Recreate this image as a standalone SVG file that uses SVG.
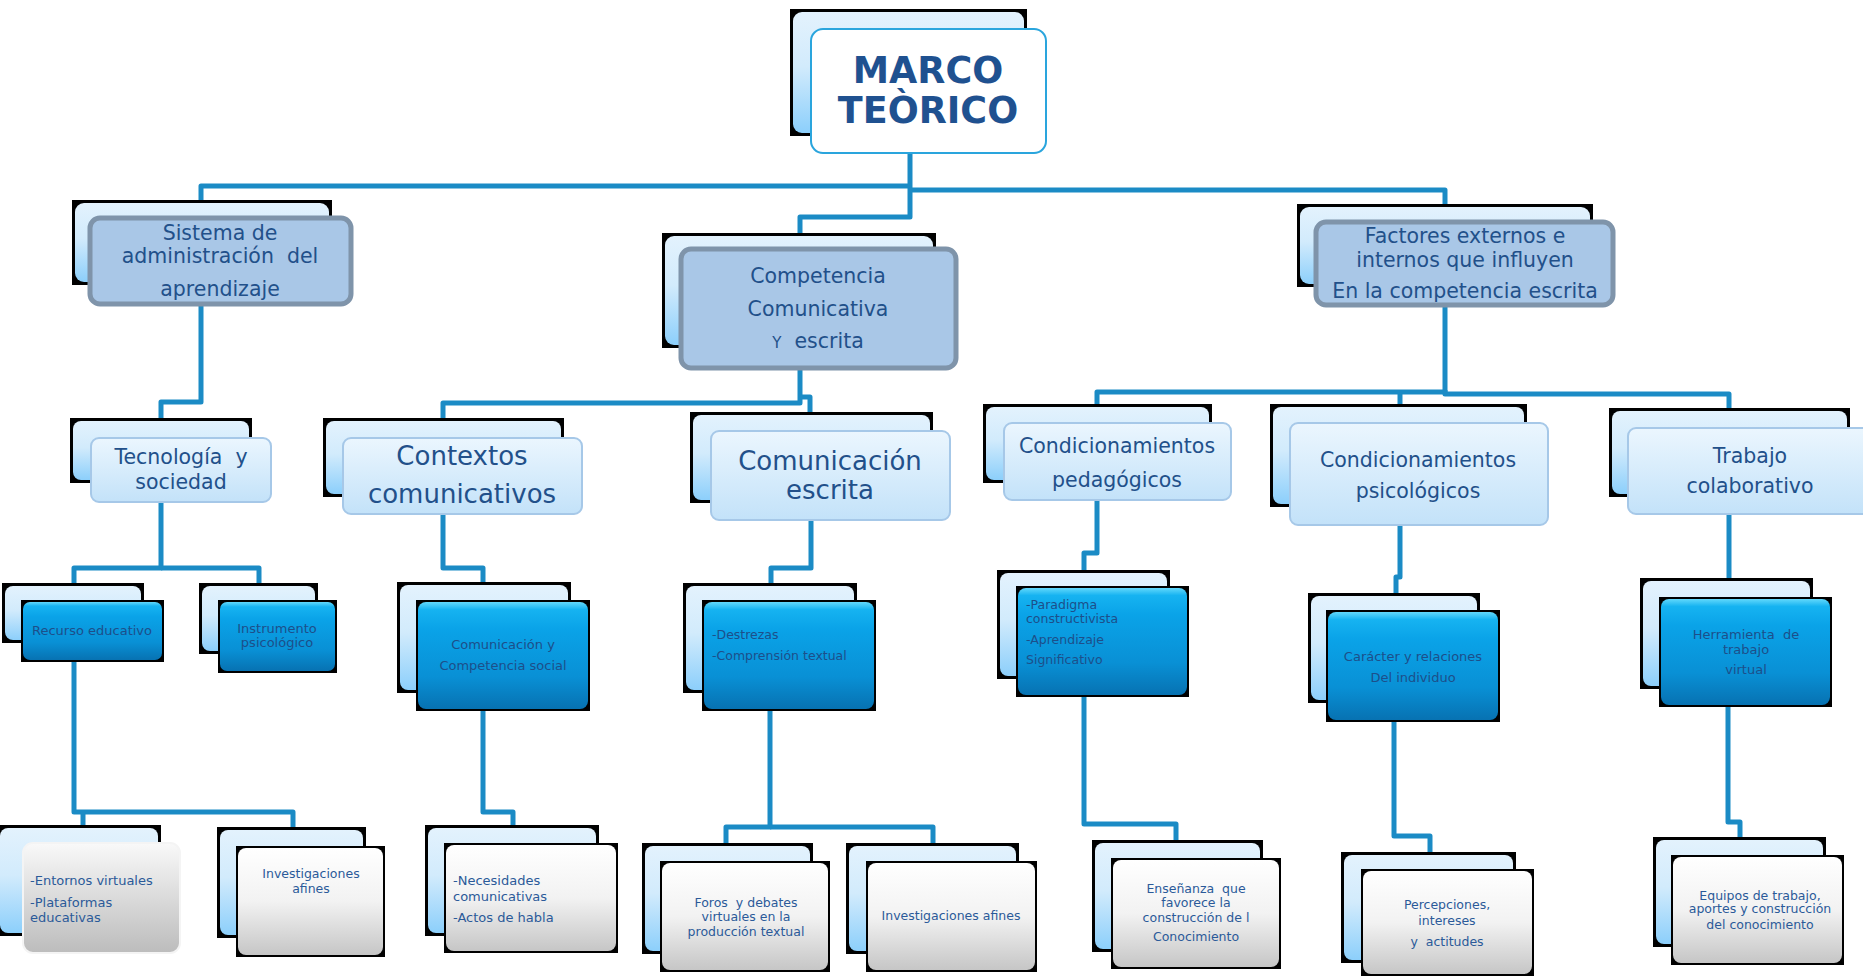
<svg xmlns="http://www.w3.org/2000/svg" width="1863" height="976" viewBox="0 0 1863 976">
<defs>
<linearGradient id="gBack" x1="0" y1="0" x2="0" y2="1">
<stop offset="0" stop-color="#e3f2fd"/><stop offset="0.45" stop-color="#d2ebfc"/><stop offset="1" stop-color="#8ccffb"/>
</linearGradient>
<linearGradient id="gL2" x1="0" y1="0" x2="0" y2="1">
<stop offset="0" stop-color="#ebf6fe"/><stop offset="1" stop-color="#c3e2f9"/>
</linearGradient>
<linearGradient id="gL3" x1="0" y1="0" x2="0" y2="1">
<stop offset="0" stop-color="#62d8fb"/><stop offset="0.07" stop-color="#16b3f1"/><stop offset="0.25" stop-color="#0aa3e8"/><stop offset="0.7" stop-color="#0990d5"/><stop offset="1" stop-color="#0772b2"/>
</linearGradient>
<linearGradient id="gL4" x1="0" y1="0" x2="0" y2="1">
<stop offset="0" stop-color="#ffffff"/><stop offset="0.5" stop-color="#f2f2f2"/><stop offset="1" stop-color="#c6c6c6"/>
</linearGradient>
<linearGradient id="gEnt" x1="0" y1="0" x2="0" y2="1">
<stop offset="0" stop-color="#f9f9f9"/><stop offset="1" stop-color="#bcbcbc"/>
</linearGradient>
</defs>
<style>
.bk{fill:#000}
.bi{fill:url(#gBack)}
.f0{fill:#fff;stroke:#2aa5dd;stroke-width:2}
.f1{fill:#a9c7e7;stroke:#7f94aa;stroke-width:5}
.f2{fill:url(#gL2);stroke:#a6c8e8;stroke-width:2}
.f3{fill:url(#gL3)}
.f4{fill:url(#gL4)}
.fe{fill:url(#gEnt);stroke:#f4f4f4;stroke-width:2}
text{font-family:"DejaVu Sans",Verdana,sans-serif}
.t0{font-size:36.5px;font-weight:bold;fill:#1f5190;text-anchor:middle}
.t1{font-size:20.5px;fill:#22508a;text-anchor:middle}
.t2{font-size:20.5px;fill:#22508a;text-anchor:middle}
.t2b{font-size:26px;fill:#22508a;text-anchor:middle}
.t3{font-size:13px;fill:#1d4f8a;text-anchor:middle}
.t3l{font-size:12.5px;fill:#1d4f8a}
.t4{font-size:12.5px;fill:#2b5a99;text-anchor:middle}
.t4l{font-size:13px;fill:#2b5a99}
.cn{fill:none;stroke:#1b8bc5;stroke-width:5;stroke-linejoin:round}
</style>
<rect width="1863" height="976" fill="#fff"/>
<g id="connectors">
<path class="cn" d="M910,153 V217 H800 V233"/>
<path class="cn" d="M910,186 H201 V200"/>
<path class="cn" d="M910,190 H1445 V204"/>
<path class="cn" d="M201,304 V402 H161 V418"/>
<path class="cn" d="M800,368 V403 H443 V418"/>
<path class="cn" d="M800,397 H810 V412"/>
<path class="cn" d="M1445,305 V392 H1097 V404"/>
<path class="cn" d="M1400,392 V404"/>
<path class="cn" d="M1445,390 V394 H1729 V408"/>
<path class="cn" d="M161,502 V568 H74 V583"/>
<path class="cn" d="M161,568 H259 V583"/>
<path class="cn" d="M443,514 V568 H483 V582"/>
<path class="cn" d="M811,520 V568 H771 V583"/>
<path class="cn" d="M1097,500 V553 H1084 V570"/>
<path class="cn" d="M1400,525 V577 H1396 V593"/>
<path class="cn" d="M1729,514 V578"/>
<path class="cn" d="M74,662 V812 H293 V827"/>
<path class="cn" d="M83,812 V825"/>
<path class="cn" d="M483,711 V812 H513 V825"/>
<path class="cn" d="M770,711 V827 H726 V843"/>
<path class="cn" d="M770,827 H933 V843"/>
<path class="cn" d="M1084,697 V824 H1176 V840"/>
<path class="cn" d="M1394,722 V836 H1430 V852"/>
<path class="cn" d="M1728,707 V822 H1740 V837"/>
</g>

<g id="n-marco">
<rect class="bk" x="790" y="9" width="237" height="127"/>
<rect class="bi" x="793" y="12" width="231" height="121" rx="9"/>
<rect class="f0" x="811" y="29" width="235" height="124" rx="12"/>
<text class="t0" x="928" y="83">MARCO</text>
<text class="t0" x="928" y="123">TEÒRICO</text>
</g>

<g id="n-sistema">
<rect class="bk" x="72" y="200" width="260" height="85"/>
<rect class="bi" x="75" y="203" width="254" height="79" rx="9"/>
<rect class="f1" x="90" y="218" width="261" height="86" rx="10"/>
<text class="t1" x="220" y="240">Sistema de</text>
<text class="t1" x="220" y="263" xml:space="preserve">administración  del</text>
<text class="t1" x="220" y="296">aprendizaje</text>
</g>

<g id="n-competencia">
<rect class="bk" x="662" y="233" width="274" height="115"/>
<rect class="bi" x="665" y="236" width="268" height="109" rx="9"/>
<rect class="f1" x="681" y="249" width="275" height="119" rx="10"/>
<text class="t1" x="818" y="283">Competencia</text>
<text class="t1" x="818" y="316">Comunicativa</text>
<text class="t1" x="818" y="348" xml:space="preserve"><tspan font-size="15">Y</tspan>  escrita</text>
</g>

<g id="n-factores">
<rect class="bk" x="1297" y="204" width="296" height="83"/>
<rect class="bi" x="1300" y="207" width="290" height="77" rx="9"/>
<rect class="f1" x="1316" y="222" width="297" height="83" rx="10"/>
<text class="t1" x="1465" y="243">Factores externos e</text>
<text class="t1" x="1465" y="267">internos que influyen</text>
<text class="t1" x="1465" y="298">En la competencia escrita</text>
</g>

<g id="n-tecnologia">
<rect class="bk" x="70" y="418" width="182" height="65"/>
<rect class="bi" x="73" y="421" width="176" height="59" rx="8"/>
<rect class="f2" x="91" y="438" width="180" height="64" rx="8"/>
<text class="t2" x="181" y="464" xml:space="preserve">Tecnología  y</text>
<text class="t2" x="181" y="489">sociedad</text>
</g>

<g id="n-contextos">
<rect class="bk" x="323" y="418" width="241" height="79"/>
<rect class="bi" x="326" y="421" width="235" height="73" rx="8"/>
<rect class="f2" x="343" y="438" width="239" height="76" rx="8"/>
<text class="t2b" x="462" y="465">Contextos</text>
<text class="t2b" x="462" y="503">comunicativos</text>
</g>

<g id="n-comescrita">
<rect class="bk" x="690" y="412" width="243" height="91"/>
<rect class="bi" x="693" y="415" width="237" height="85" rx="8"/>
<rect class="f2" x="711" y="431" width="239" height="89" rx="8"/>
<text class="t2b" x="830" y="470">Comunicación</text>
<text class="t2b" x="830" y="499">escrita</text>
</g>

<g id="n-condped">
<rect class="bk" x="983" y="404" width="229" height="79"/>
<rect class="bi" x="986" y="407" width="223" height="73" rx="8"/>
<rect class="f2" x="1004" y="423" width="227" height="77" rx="8"/>
<text class="t2" x="1117" y="453">Condicionamientos</text>
<text class="t2" x="1117" y="487">pedagógicos</text>
</g>

<g id="n-condpsic">
<rect class="bk" x="1270" y="404" width="257" height="103"/>
<rect class="bi" x="1273" y="407" width="251" height="97" rx="8"/>
<rect class="f2" x="1290" y="423" width="258" height="102" rx="8"/>
<text class="t2" x="1418" y="467">Condicionamientos</text>
<text class="t2" x="1418" y="498">psicológicos</text>
</g>

<g id="n-trabajo">
<rect class="bk" x="1609" y="408" width="241" height="89"/>
<rect class="bi" x="1612" y="411" width="235" height="83" rx="8"/>
<rect class="f2" x="1628" y="428" width="244" height="86" rx="8"/>
<text class="t2" x="1750" y="463">Trabajo</text>
<text class="t2" x="1750" y="493">colaborativo</text>
</g>

<g id="n-recurso">
<rect class="bk" x="2" y="583" width="142" height="60"/>
<rect class="bi" x="5" y="586" width="136" height="54" rx="8"/>
<rect class="bk" x="21" y="600" width="143" height="62"/>
<rect class="f3" x="23" y="602" width="139" height="58" rx="7"/>
<text class="t3" x="92" y="635">Recurso educativo</text>
</g>

<g id="n-instrumento">
<rect class="bk" x="199" y="583" width="119" height="71"/>
<rect class="bi" x="202" y="586" width="113" height="65" rx="8"/>
<rect class="bk" x="218" y="600" width="119" height="73"/>
<rect class="f3" x="220" y="602" width="115" height="69" rx="7"/>
<text class="t3" x="277" y="633">Instrumento</text>
<text class="t3" x="277" y="647">psicológico</text>
</g>

<g id="n-comcomp">
<rect class="bk" x="397" y="582" width="174" height="111"/>
<rect class="bi" x="400" y="585" width="168" height="105" rx="8"/>
<rect class="bk" x="416" y="600" width="174" height="111"/>
<rect class="f3" x="418" y="602" width="170" height="107" rx="8"/>
<text class="t3" x="503" y="649">Comunicación y</text>
<text class="t3" x="503" y="670">Competencia social</text>
</g>

<g id="n-destrezas">
<rect class="bk" x="683" y="583" width="174" height="110"/>
<rect class="bi" x="686" y="586" width="168" height="104" rx="8"/>
<rect class="bk" x="702" y="600" width="174" height="111"/>
<rect class="f3" x="704" y="602" width="170" height="107" rx="8"/>
<text class="t3l" x="712" y="639">-Destrezas</text>
<text class="t3l" x="712" y="660">-Comprensión textual</text>
</g>

<g id="n-paradigma">
<rect class="bk" x="997" y="570" width="173" height="109"/>
<rect class="bi" x="1000" y="573" width="167" height="103" rx="8"/>
<rect class="bk" x="1016" y="586" width="173" height="111"/>
<rect class="f3" x="1018" y="588" width="169" height="107" rx="8"/>
<text class="t3l" x="1026" y="609">-Paradigma</text>
<text class="t3l" x="1026" y="623">constructivista</text>
<text class="t3l" x="1026" y="644">-Aprendizaje</text>
<text class="t3l" x="1026" y="664">Significativo</text>
</g>

<g id="n-caracter">
<rect class="bk" x="1308" y="593" width="172" height="110"/>
<rect class="bi" x="1311" y="596" width="166" height="104" rx="8"/>
<rect class="bk" x="1326" y="610" width="174" height="112"/>
<rect class="f3" x="1328" y="612" width="170" height="108" rx="8"/>
<text class="t3" x="1413" y="661">Carácter y relaciones</text>
<text class="t3" x="1413" y="682">Del individuo</text>
</g>

<g id="n-herramienta">
<rect class="bk" x="1640" y="578" width="173" height="111"/>
<rect class="bi" x="1643" y="581" width="167" height="105" rx="8"/>
<rect class="bk" x="1659" y="597" width="173" height="110"/>
<rect class="f3" x="1661" y="599" width="169" height="106" rx="8"/>
<text class="t3" x="1746" y="639" xml:space="preserve">Herramienta  de</text>
<text class="t3" x="1746" y="654">trabajo</text>
<text class="t3" x="1746" y="674">virtual</text>
</g>

<g id="n-entornos">
<rect class="bk" x="0" y="825" width="161" height="111"/>
<rect class="bi" x="0" y="828" width="158" height="105" rx="8"/>
<rect class="fe" x="23" y="843" width="157" height="110" rx="10"/>
<text class="t4l" x="30" y="885">-Entornos virtuales</text>
<text class="t4l" x="30" y="907">-Plataformas</text>
<text class="t4l" x="30" y="922">educativas</text>
</g>

<g id="n-invest1">
<rect class="bk" x="217" y="827" width="149" height="111"/>
<rect class="bi" x="220" y="830" width="143" height="105" rx="8"/>
<rect class="bk" x="236" y="846" width="149" height="111"/>
<rect class="f4" x="238" y="848" width="145" height="107" rx="8"/>
<text class="t4" x="311" y="878">Investigaciones</text>
<text class="t4" x="311" y="893">afines</text>
</g>

<g id="n-necesidades">
<rect class="bk" x="425" y="825" width="174" height="111"/>
<rect class="bi" x="428" y="828" width="168" height="105" rx="8"/>
<rect class="bk" x="444" y="843" width="174" height="110"/>
<rect class="f4" x="446" y="845" width="170" height="106" rx="8"/>
<text class="t4l" x="453" y="885">-Necesidades</text>
<text class="t4l" x="453" y="901">comunicativas</text>
<text class="t4l" x="453" y="922">-Actos de habla</text>
</g>

<g id="n-foros">
<rect class="bk" x="642" y="843" width="171" height="111"/>
<rect class="bi" x="645" y="846" width="165" height="105" rx="8"/>
<rect class="bk" x="660" y="861" width="170" height="111"/>
<rect class="f4" x="662" y="863" width="166" height="107" rx="8"/>
<text class="t4" x="746" y="907" xml:space="preserve">Foros  y debates</text>
<text class="t4" x="746" y="921">virtuales en la</text>
<text class="t4" x="746" y="936">producción textual</text>
</g>

<g id="n-invest2">
<rect class="bk" x="846" y="843" width="173" height="111"/>
<rect class="bi" x="849" y="846" width="167" height="105" rx="8"/>
<rect class="bk" x="866" y="861" width="171" height="111"/>
<rect class="f4" x="868" y="863" width="167" height="107" rx="8"/>
<text class="t4" x="951" y="920">Investigaciones afines</text>
</g>

<g id="n-ensenanza">
<rect class="bk" x="1092" y="840" width="171" height="112"/>
<rect class="bi" x="1095" y="843" width="165" height="106" rx="8"/>
<rect class="bk" x="1111" y="858" width="170" height="111"/>
<rect class="f4" x="1113" y="860" width="166" height="107" rx="8"/>
<text class="t4" x="1196" y="893" xml:space="preserve">Enseñanza  que</text>
<text class="t4" x="1196" y="907">favorece la</text>
<text class="t4" x="1196" y="922">construcción de l</text>
<text class="t4" x="1196" y="941">Conocimiento</text>
</g>

<g id="n-percepciones">
<rect class="bk" x="1341" y="852" width="175" height="111"/>
<rect class="bi" x="1344" y="855" width="169" height="105" rx="8"/>
<rect class="bk" x="1361" y="869" width="173" height="107"/>
<rect class="f4" x="1363" y="871" width="169" height="103" rx="8"/>
<text class="t4" x="1447" y="909">Percepciones,</text>
<text class="t4" x="1447" y="925">intereses</text>
<text class="t4" x="1447" y="946" xml:space="preserve">y  actitudes</text>
</g>

<g id="n-equipos">
<rect class="bk" x="1653" y="837" width="173" height="110"/>
<rect class="bi" x="1656" y="840" width="167" height="104" rx="8"/>
<rect class="bk" x="1671" y="855" width="173" height="110"/>
<rect class="f4" x="1673" y="857" width="169" height="106" rx="8"/>
<text class="t4" x="1760" y="900">Equipos de trabajo,</text>
<text class="t4" x="1760" y="913">aportes y construcción</text>
<text class="t4" x="1760" y="929">del conocimiento</text>
</g>
</svg>
